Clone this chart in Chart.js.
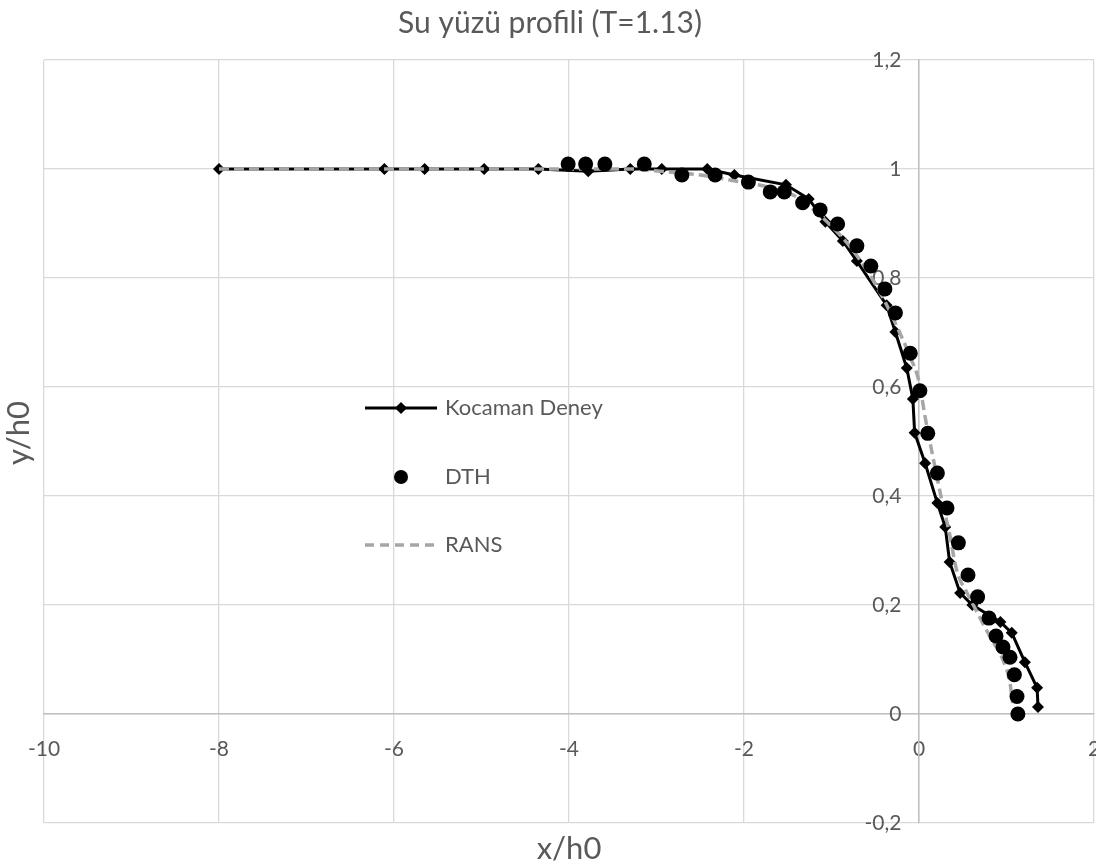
<!DOCTYPE html>
<html>
<head>
<meta charset="utf-8">
<script src="https://cdn.jsdelivr.net/npm/chart.js@4"></script>
<style>
  html, body { margin: 0; padding: 0; background: #ffffff; overflow: hidden; }
  #wrap { position: relative; width: 1096px; height: 865px; }
</style>
</head>
<body>
<div id="wrap"><canvas id="c" width="1096" height="865"></canvas></div>
<script>
const chartTitle = 'Su yüzü profili (T=1.13)';
const xTitle = 'x/h0';
const yTitle = 'y/h0';
const seriesNames = ['Kocaman Deney', 'DTH', 'RANS'];

const xTicks = [-10, -8, -6, -4, -2, 0, 2];
const yTicks = [-0.2, 0, 0.2, 0.4, 0.6, 0.8, 1.0, 1.2];

const kocamanX = [-8, -6.11, -5.65, -4.97, -4.35, -3.78, -3.30, -2.94, -2.42, -2.11, -1.52, -1.26, -1.07, -0.87, -0.71, -0.37, -0.27, -0.14, -0.07, -0.05, 0.07, 0.21, 0.30, 0.35, 0.47, 0.61, 0.93, 1.06, 1.21, 1.35, 1.36];
const kocamanY = [1, 1, 1, 1, 1, 0.996, 1.0, 1.0, 1.0, 0.989, 0.971, 0.945, 0.903, 0.868, 0.831, 0.750, 0.701, 0.635, 0.578, 0.516, 0.460, 0.387, 0.343, 0.279, 0.222, 0.200, 0.169, 0.149, 0.095, 0.048, 0.013];

const dthX = [-4.01, -3.81, -3.59, -3.14, -2.71, -2.33, -1.95, -1.70, -1.54, -1.33, -1.13, -0.93, -0.71, -0.55, -0.39, -0.27, -0.10, 0.01, 0.10, 0.21, 0.32, 0.45, 0.56, 0.67, 0.80, 0.88, 0.96, 1.04, 1.09, 1.12, 1.13];
const dthY = [1.009, 1.009, 1.009, 1.009, 0.989, 0.989, 0.976, 0.958, 0.958, 0.938, 0.925, 0.899, 0.859, 0.822, 0.780, 0.736, 0.662, 0.593, 0.515, 0.442, 0.378, 0.314, 0.255, 0.215, 0.176, 0.143, 0.123, 0.104, 0.072, 0.032, 0.0];

const ransX = [-8, -6, -4, -3.3, -2.9, -2.5, -2.1, -1.7, -1.4, -1.2, -1.0, -0.8, -0.6, -0.4, -0.25, -0.1, 0.0, 0.07, 0.15, 0.26, 0.35, 0.43, 0.55, 0.67, 0.75, 0.85, 0.96, 1.04, 1.07];
const ransY = [1, 1, 1, 1.0, 0.995, 0.989, 0.978, 0.966, 0.949, 0.925, 0.895, 0.86, 0.815, 0.76, 0.71, 0.655, 0.61, 0.545, 0.479, 0.393, 0.33, 0.264, 0.222, 0.185, 0.16, 0.132, 0.099, 0.057, 0.02];

const toPts = (xs, ys) => xs.map((x, i) => ({ x: x, y: ys[i] }));

const FONT = 'Lato, "Open Sans", sans-serif';
const TXT = '#595959';

const fmtY = v => {
  const r = Math.round(v * 10) / 10;
  return String(r).replace('.', ',');
};
const fmtX = v => String(Math.round(v));

const zeroFit = s => {
  if (s.isHorizontal()) s.height = 0; else s.width = 0;
  s.paddingLeft = 0; s.paddingRight = 0; s.paddingTop = 0; s.paddingBottom = 0;
};

const decor = {
  id: 'decor',
  afterDraw(chart) {
    const ctx = chart.ctx;
    const a = chart.chartArea;
    ctx.save();
    ctx.fillStyle = TXT;
    ctx.textAlign = 'center';
    ctx.textBaseline = 'middle';
    ctx.font = '30px ' + FONT;
    ctx.fillText(chartTitle, 550, 23);
    ctx.font = '31px ' + FONT;
    ctx.fillText(xTitle, (a.left + a.right) / 2, 849);
    ctx.save();
    ctx.translate(19, 433);
    ctx.rotate(-Math.PI / 2);
    ctx.fillText(yTitle, 0, 0);
    ctx.restore();

    // legend
    const lx0 = 365, lx1 = 437, mx = 401, tx = 445;
    const rows = [408, 477, 545];
    ctx.font = '22px ' + FONT;
    ctx.textAlign = 'left';
    // Kocaman
    ctx.strokeStyle = '#000';
    ctx.lineWidth = 3;
    ctx.setLineDash([]);
    ctx.beginPath(); ctx.moveTo(lx0, rows[0]); ctx.lineTo(lx1, rows[0]); ctx.stroke();
    ctx.fillStyle = '#000';
    ctx.beginPath();
    ctx.moveTo(mx, rows[0] - 6); ctx.lineTo(mx + 6, rows[0]); ctx.lineTo(mx, rows[0] + 6); ctx.lineTo(mx - 6, rows[0]);
    ctx.closePath(); ctx.fill();
    // DTH
    ctx.beginPath(); ctx.arc(mx, rows[1], 7, 0, Math.PI * 2); ctx.fill();
    // RANS
    ctx.strokeStyle = '#a6a6a6';
    ctx.lineWidth = 3.5;
    ctx.setLineDash([9, 6]);
    ctx.beginPath(); ctx.moveTo(lx0, rows[2]); ctx.lineTo(lx1, rows[2]); ctx.stroke();
    ctx.setLineDash([]);
    ctx.fillStyle = TXT;
    seriesNames.forEach((n, i) => ctx.fillText(n, tx, rows[i]));
    ctx.restore();
  }
};

new Chart(document.getElementById('c'), {
  type: 'scatter',
  data: {
    datasets: [
      {
        label: seriesNames[0],
        data: toPts(kocamanX, kocamanY),
        showLine: true,
        borderColor: '#000000',
        backgroundColor: '#000000',
        borderWidth: 3,
        pointStyle: 'rectRot',
        pointRadius: 6,
        pointBorderWidth: 0,
        pointBackgroundColor: '#000000',
        tension: 0,
        order: 2
      },
      {
        label: seriesNames[1],
        data: toPts(dthX, dthY),
        showLine: false,
        pointStyle: 'circle',
        pointRadius: 7.5,
        pointBorderWidth: 0,
        pointBackgroundColor: '#000000',
        backgroundColor: '#000000',
        borderColor: '#000000',
        order: 0
      },
      {
        label: seriesNames[2],
        data: toPts(ransX, ransY),
        showLine: true,
        borderColor: '#a6a6a6',
        backgroundColor: '#a6a6a6',
        borderWidth: 3.5,
        borderDash: [10, 5],
        pointRadius: 0,
        cubicInterpolationMode: 'monotone',
        order: 1
      }
    ]
  },
  options: {
    responsive: false,
    animation: false,
    events: [],
    layout: { autoPadding: false, padding: { left: 44, right: 2, top: 60, bottom: 42 } },
    plugins: {
      legend: { display: false },
      title: { display: false },
      tooltip: { enabled: false }
    },
    scales: {
      x: {
        type: 'linear',
        min: xTicks[0],
        max: xTicks[xTicks.length - 1],
        position: { y: 0 },
        afterFit: zeroFit,
        afterBuildTicks: s => { s.ticks = xTicks.map(v => ({ value: v })); },
        ticks: {
          callback: fmtX,
          color: TXT,
          font: { family: FONT, size: 21 },
          padding: 23,
          maxRotation: 0,
          autoSkip: false
        },
        grid: { color: '#d9d9d9', lineWidth: 1.3, drawTicks: false },
        border: { display: true, color: '#bfbfbf', width: 1.5 }
      },
      y: {
        type: 'linear',
        min: yTicks[0],
        max: yTicks[yTicks.length - 1],
        position: { x: 0 },
        afterFit: zeroFit,
        afterBuildTicks: s => { s.ticks = yTicks.map(v => ({ value: v })); },
        ticks: { display: false },
        grid: { color: '#d9d9d9', lineWidth: 1.3, drawTicks: false },
        border: { display: true, color: '#bfbfbf', width: 1.5 }
      },
      yl: {
        type: 'linear',
        axis: 'y',
        min: yTicks[0],
        max: yTicks[yTicks.length - 1],
        position: { x: -0.2 },
        afterFit: zeroFit,
        afterBuildTicks: s => { s.ticks = yTicks.map(v => ({ value: v })); },
        ticks: {
          callback: fmtY,
          color: TXT,
          font: { family: FONT, size: 21 },
          padding: 0,
          autoSkip: false
        },
        grid: { display: false, drawTicks: false },
        border: { display: false }
      }
    }
  },
  plugins: [decor]
});
</script>
</body>
</html>
